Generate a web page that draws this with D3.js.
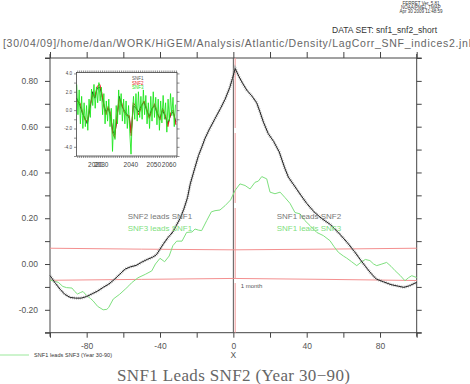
<!DOCTYPE html>
<html>
<head>
<meta charset="utf-8">
<script src="https://cdn.jsdelivr.net/npm/d3@7"></script>
<style>
  body { margin: 0; background: #fff; }
  svg { display: block; }
</style>
</head>
<body>
<div id="chart"></div>
<script>
// lag correlation SNF1 vs SNF2 (black) and SNF1 vs SNF3 (green)
const lagBlack = [-100,-97,-94.5,-92,-89,-86,-83,-80,-77,-74,-71,-68,-65,-62,-59,-56,-53,-50,-47,-44,-42,-40,-38,-35.5,-33,-31,-29,-27,-25,-23.5,-21,-19,-17,-15.5,-13,-10,-7,-4.5,-2,-0.5,1,3,5,7.3,10,12.7,14.5,16.4,19,22,25,28,30,33,36,40,44,48,53,58,62,66,69,72,75,78,82,86,90,93,96,100];
const corrBlack = [-0.05,-0.085,-0.11,-0.132,-0.146,-0.149,-0.149,-0.142,-0.13,-0.118,-0.102,-0.088,-0.068,-0.045,-0.022,-0.012,-0.006,0.008,0.02,0.03,0.04,0.065,0.09,0.117,0.14,0.17,0.2,0.24,0.29,0.35,0.42,0.474,0.515,0.548,0.59,0.635,0.68,0.72,0.77,0.81,0.854,0.82,0.79,0.76,0.735,0.705,0.665,0.62,0.57,0.535,0.49,0.42,0.38,0.345,0.31,0.265,0.228,0.2,0.172,0.131,0.095,0.055,0.022,-0.01,-0.04,-0.066,-0.078,-0.09,-0.097,-0.102,-0.095,-0.08];

const lagGreen = [-100,-97.5,-95.5,-93,-91,-88,-86.5,-85,-83.5,-82,-80,-78,-76.5,-74,-71,-69,-68,-65.5,-62,-59,-57,-55.5,-52,-48,-44.5,-42.5,-40,-37.5,-35,-33,-30.9,-28,-25.5,-22.5,-20.9,-19,-17.3,-14.5,-12,-10,-7.3,-4.5,-1.5,0.9,3.6,6.4,9.1,11.8,13.6,15.5,18.2,20,22.7,25.5,28.2,30.9,33.6,36.4,39,41.8,45.5,49.1,52.7,55,57.3,60,61.8,64.5,67.3,70,72,74.5,76.5,78.2,81,83.6,86,88.2,91,93.6,95.5,97.3,100];
const corrGreen = [-0.07,-0.075,-0.08,-0.098,-0.103,-0.105,-0.12,-0.131,-0.125,-0.12,-0.138,-0.15,-0.161,-0.185,-0.2,-0.198,-0.19,-0.153,-0.132,-0.11,-0.095,-0.082,-0.06,-0.045,-0.03,0.0,0.025,0.01,0.035,0.08,0.1,0.1,0.138,0.14,0.153,0.148,0.146,0.19,0.228,0.233,0.236,0.255,0.28,0.321,0.35,0.343,0.328,0.357,0.362,0.382,0.372,0.314,0.307,0.314,0.29,0.265,0.225,0.219,0.19,0.168,0.138,0.124,0.102,0.075,0.051,0.035,0.026,0.01,-0.007,0.01,0.02,0.015,0.0,-0.007,0.0,0.007,-0.01,-0.029,-0.05,-0.073,-0.06,-0.051,-0.059];

// significance levels
const sigLag = [-100,-50,0,50,100];
const sigUpper = [0.069,0.065,0.062,0.065,0.069];
const sigLower = [-0.071,-0.067,-0.063,-0.067,-0.072];

const xTickValues = [-100,-80,-60,-40,-20,0,20,40,60,80,100];
const xLabelValues = [-80,-40,0,40,80];
const yTickValues = [-0.3,-0.2,-0.1,0,0.1,0.2,0.3,0.4,0.5,0.6,0.7,0.8,0.9];
const yLabelValues = [-0.2,0,0.2,0.4,0.6,0.8];

// inset time series
const insetYears = [2011.7,2013.4,2014.8,2016.1,2017.3,2018.7,2020.1,2021.3,2022.5,2023.9,2025.0,2026.1,2027.1,2028.3,2029.6,2030.6,2031.7,2032.7,2034.1,2035.4,2036.6,2038.0,2039.4,2040.4,2041.5,2042.9,2044.3,2045.7,2047.1,2048.5,2049.9,2051.3,2052.7,2054.1,2055.5,2056.9,2058.3,2059.7,2061.2,2062.5,2063.9];
const snf1 = [1.3,0.5,-0.4,-0.9,-1.5,0.2,2.0,1.3,2.4,2.5,1.6,0.5,-0.2,0.2,-0.7,-2.2,-2.7,-1.3,1.5,0.5,0,-0.4,-0.9,-2.5,0.5,0.2,-0.2,0.5,0.9,0,-0.7,0.2,0.5,-0.4,-0.9,0,-0.7,-1.5,-0.5,-0.2,-1.3];
const snf2 = [1.0,0.8,-0.2,-1.1,-1.2,0.5,1.6,1.5,2.6,2.8,1.8,0.3,-0.5,0.4,-0.4,-2.5,-3.0,-1.0,1.2,0.8,-0.2,-0.6,-0.6,-2.8,0.8,0.4,-0.5,0.3,1.0,0.2,-0.9,0.0,0.7,-0.2,-1.1,0.2,-0.5,-1.8,-0.3,0.0,-1.6];
const snf3Years = [2011.7,2012.35,2013.0,2013.65,2014.3,2014.95,2015.6,2016.25,2016.9,2017.55,2018.2,2018.85,2019.5,2020.15,2020.8,2021.45,2022.1,2022.75,2023.4,2024.05,2024.7,2025.35,2026.0,2026.65,2027.3,2027.95,2028.6,2029.25,2029.9,2030.55,2031.2,2031.85,2032.5,2033.15,2033.8,2034.45,2035.1,2035.75,2036.4,2037.05,2037.7,2038.35,2039.0,2039.65,2040.3,2040.95,2041.6,2042.25,2042.9,2043.55,2044.2,2044.85,2045.5,2046.15,2046.8,2047.45,2048.1,2048.75,2049.4,2050.05,2050.7,2051.35,2052.0,2052.65,2053.3,2053.95,2054.6,2055.25,2055.9,2056.55,2057.2,2057.85,2058.5,2059.15,2059.8,2060.45,2061.1,2061.75,2062.4,2063.05,2063.7];
const snf3 = [2.8,-0.5,2.2,-1.5,1.5,-2.0,0.8,-1.8,0.5,-2.2,1.2,-0.8,2.3,0.5,2.8,0.2,2.5,0.8,3.0,1.0,2.5,-0.5,1.8,-1.5,1.0,-1.2,1.2,-1.8,0.2,-4.5,-1.0,-3.2,0.5,-1.5,2.2,-0.5,1.8,-1.2,1.2,-1.5,1.0,-2.0,0.5,-2.5,-4.8,-0.8,1.5,-1.0,1.8,-1.2,2.0,-0.8,1.5,-1.0,2.2,-0.5,1.6,-1.5,0.8,-2.0,1.5,-1.2,2.0,-0.8,1.4,-1.6,1.2,-2.2,1.0,-1.4,1.6,-1.0,0.8,-2.4,1.2,-1.2,1.8,-0.6,1.4,-1.8,0.6];
const insetYTicks = [-5,-4,-3,-2,-1,0,1,2,3,4];
const insetYLabels = [-4,-2,0,2,4];
const insetXLabelYears = [2021.5,2024.6,2040.2,2052.3,2060.3];
const insetXLabels = ["2020","2030","2040","2050","2060"];

const W = 470, H = 384;
const sans = "Liberation Sans, Arial, sans-serif";
const svg = d3.select("#chart").append("svg").attr("width", W).attr("height", H)
  .attr("font-family", sans);

const plot = { left: 50, right: 416.7, top: 58, bottom: 332.7 };
const x = d3.scaleLinear().domain([-100, 100]).range([plot.left, plot.right]);
const y = d3.scaleLinear().domain([-0.3, 0.9]).range([plot.bottom, plot.top]);

const axisColor = "#444", textColor = "#555";

// header text
const hdr = svg.append("g").attr("fill", "#333").attr("font-size", 4.5).attr("text-anchor", "middle");
["FERRET Ver. 5.81", "NOAA/PMEL TMAP", "Apr 30 2009 11:48:59"].forEach((t, i) => {
  hdr.append("text").attr("x", 421).attr("y", 5 + i * 4.2).text(t);
});
svg.append("text").attr("x", 332).attr("y", 33).attr("font-size", 8.5).attr("fill", "#333")
  .attr("textLength", 105).text("DATA SET: snf1_snf2_short");
svg.append("text").attr("x", 3).attr("y", 47).attr("font-size", 10.5).attr("fill", "#666")
  .attr("textLength", 468).attr("lengthAdjust", "spacing")
  .text("[30/04/09]/home/dan/WORK/HiGEM/Analysis/Atlantic/Density/LagCorr_SNF_indices2.jnl");

// axes
function styleAxis(g) {
  g.select(".domain").remove();
  g.selectAll(".tick line").attr("stroke", axisColor);
  g.selectAll(".tick text").attr("fill", textColor).attr("font-size", 8.5)
    .attr("font-family", sans);
}
svg.append("g").attr("transform", `translate(0,${plot.bottom})`)
  .call(d3.axisBottom(x).tickValues(xTickValues).tickSize(5).tickPadding(5)
    .tickFormat(d => xLabelValues.includes(d) ? String(d) : ""))
  .call(styleAxis);
svg.append("g").attr("transform", `translate(0,${plot.top})`)
  .call(d3.axisTop(x).tickValues(xTickValues).tickSize(6).tickFormat(""))
  .call(styleAxis);
svg.append("g").attr("transform", `translate(${plot.left},0)`)
  .call(d3.axisLeft(y).tickValues(yTickValues).tickSize(5).tickPadding(7)
    .tickFormat(d => yLabelValues.some(v => Math.abs(v - d) < 1e-9) ? d.toFixed(2) : ""))
  .call(styleAxis);
svg.append("g").attr("transform", `translate(${plot.right},0)`)
  .call(d3.axisRight(y).tickValues(yTickValues).tickSize(5).tickFormat(""))
  .call(styleAxis);

const frame = svg.append("g").attr("stroke", axisColor).attr("stroke-width", 1);
frame.append("line").attr("x1", plot.left - 5).attr("x2", plot.right + 5).attr("y1", plot.bottom).attr("y2", plot.bottom);
frame.append("line").attr("x1", plot.left - 5).attr("x2", plot.right + 5).attr("y1", plot.top).attr("y2", plot.top);
frame.append("line").attr("x1", plot.left).attr("x2", plot.left).attr("y1", plot.top - 4).attr("y2", plot.bottom + 4);
frame.append("line").attr("x1", plot.right).attr("x2", plot.right).attr("y1", plot.top - 4).attr("y2", plot.bottom + 4);

svg.append("text").attr("x", x(0)).attr("y", 358).attr("text-anchor", "middle")
  .attr("font-size", 8.5).attr("fill", textColor).text("X");

// zero lag line and 1 month line
svg.append("line").attr("x1", x(0)).attr("x2", x(0)).attr("y1", plot.top).attr("y2", plot.bottom)
  .attr("stroke", "#555").attr("stroke-width", 1);
svg.append("line").attr("x1", x(1)).attr("x2", x(1)).attr("y1", plot.top).attr("y2", plot.bottom)
  .attr("stroke", "#f29a9a").attr("stroke-width", 1).attr("stroke-dasharray", "70,5");

const line = d3.line().x(d => x(d[0])).y(d => y(d[1]));

// significance lines
[sigUpper, sigLower].forEach(s => {
  svg.append("path").attr("d", line(sigLag.map((l, i) => [l, s[i]])))
    .attr("fill", "none").attr("stroke", "#f49090").attr("stroke-width", 1);
});

// green curve
svg.append("path").attr("d", line(lagGreen.map((l, i) => [l, corrGreen[i]])))
  .attr("fill", "none").attr("stroke", "#7ee07e").attr("stroke-width", 1);

// black curve with marker stipple
const blackPts = lagBlack.map((l, i) => [l, corrBlack[i]]);
svg.append("path").attr("d", line(blackPts))
  .attr("fill", "none").attr("stroke", "#b4b4b4").attr("stroke-width", 3)
  .attr("stroke-dasharray", "0.8,1.1");
svg.append("path").attr("d", line(blackPts))
  .attr("fill", "none").attr("stroke", "#222").attr("stroke-width", 1);

// in-plot labels
const lab = svg.append("g").attr("font-size", 8);
lab.append("text").attr("x", 127.7).attr("y", 219).attr("fill", "#777").text("SNF2 leads SNF1");
lab.append("text").attr("x", 127.7).attr("y", 230.5).attr("fill", "#7ee07e").text("SNF3 leads SNF1");
lab.append("text").attr("x", 276.7).attr("y", 219).attr("fill", "#777").text("SNF1 leads SNF2");
lab.append("text").attr("x", 276.7).attr("y", 230.5).attr("fill", "#7ee07e").text("SNF1 leads SNF3");
svg.append("text").attr("x", 240.7).attr("y", 287.5).attr("font-size", 6).attr("fill", "#555").text("1 month");

// legend at bottom left
svg.append("line").attr("x1", 0).attr("x2", 29).attr("y1", 355).attr("y2", 355)
  .attr("stroke", "#9be89b").attr("stroke-width", 1);
svg.append("text").attr("x", 34).attr("y", 357).attr("font-size", 5.5).attr("fill", "#333")
  .attr("textLength", 78).text("SNF1 leads SNF3 (Year 30-90)");

// title
svg.append("text").attr("x", 117).attr("y", 381).attr("font-size", 17).attr("fill", "#666")
  .attr("font-family", "Liberation Serif, Times New Roman, serif")
  .attr("textLength", 233).attr("lengthAdjust", "spacing")
  .text("SNF1 Leads SNF2 (Year 30\u221290)");

// ---------- inset ----------
const ib = { left: 76.5, right: 177, top: 72.5, bottom: 156 };
const ix = d3.scaleLinear().domain([2011.6, 2064.5]).range([ib.left, ib.right]);
const iy = d3.scaleLinear().domain([-5, 4.1]).range([ib.bottom, ib.top]);
const inset = svg.append("g");
inset.append("rect").attr("x", ib.left).attr("y", ib.top)
  .attr("width", ib.right - ib.left).attr("height", ib.bottom - ib.top).attr("fill", "#fff");

const iline = d3.line().x(d => ix(d[0])).y(d => iy(d[1]));
inset.append("path").attr("d", iline(insetYears.map((t, i) => [t, snf1[i]])))
  .attr("fill", "none").attr("stroke", "#222").attr("stroke-width", 1);
inset.append("path").attr("d", iline(insetYears.map((t, i) => [t, snf2[i]])))
  .attr("fill", "none").attr("stroke", "#e82020").attr("stroke-width", 1);
inset.append("path").attr("d", iline(snf3Years.map((t, i) => [t, snf3[i]])))
  .attr("fill", "none").attr("stroke", "#19e619").attr("stroke-width", 1).attr("opacity", 0.85);

const yearTicks = d3.range(2012, 2065);
function styleInset(g) {
  g.select(".domain").remove();
  g.selectAll(".tick line").attr("stroke", "#444").attr("stroke-width", 0.6);
  g.selectAll(".tick text").attr("fill", "#444").attr("font-size", 4.5);
}
inset.append("g").attr("transform", `translate(0,${ib.top})`)
  .call(d3.axisTop(ix).tickValues(yearTicks).tickSize(2).tickFormat("")).call(styleInset);
inset.append("g").attr("transform", `translate(0,${ib.bottom})`)
  .call(d3.axisBottom(ix).tickValues(yearTicks).tickSize(2).tickFormat("")).call(styleInset);
inset.append("g").attr("transform", `translate(${ib.left},0)`)
  .call(d3.axisLeft(iy).tickValues(insetYTicks).tickSize(2.5).tickPadding(2)
    .tickFormat(d => insetYLabels.includes(d) ? d.toFixed(1) : "")).call(styleInset);
inset.append("g").attr("transform", `translate(${ib.right},0)`)
  .call(d3.axisRight(iy).tickValues(insetYTicks).tickSize(2.5).tickFormat("")).call(styleInset);
inset.append("rect").attr("x", ib.left).attr("y", ib.top)
  .attr("width", ib.right - ib.left).attr("height", ib.bottom - ib.top)
  .attr("fill", "none").attr("stroke", "#444").attr("stroke-width", 0.8);

inset.selectAll(".xl").data(insetXLabels).enter().append("text")
  .attr("x", (d, i) => ix(insetXLabelYears[i])).attr("y", 167)
  .attr("text-anchor", "middle").attr("font-size", 6.5).attr("fill", "#444").text(d => d);

const ileg = inset.append("g").attr("font-size", 4.5);
ileg.append("text").attr("x", 132).attr("y", 80).attr("fill", "#555").text("SNF1");
ileg.append("text").attr("x", 132).attr("y", 84.7).attr("fill", "#e82020").text("SNF2");
ileg.append("text").attr("x", 132).attr("y", 89.4).attr("fill", "#19e619").text("SNF3");
</script>
</body>
</html>
